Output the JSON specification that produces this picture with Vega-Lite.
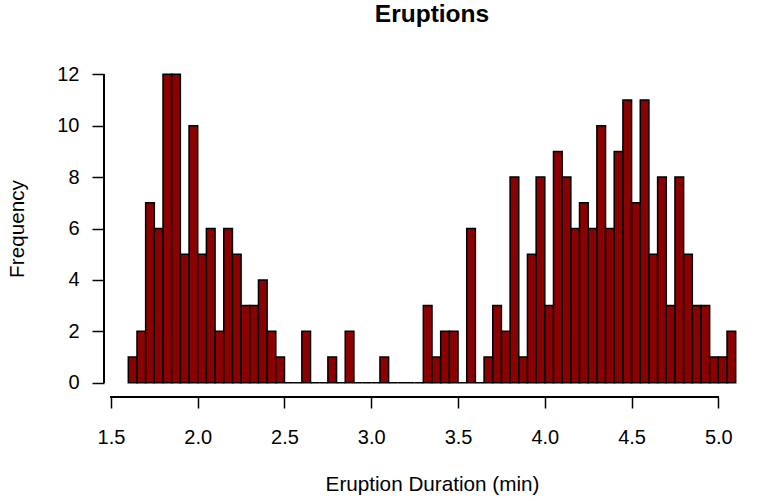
{
  "$schema": "https://vega.github.io/schema/vega-lite/v6.json",
  "width": 656,
  "height": 333,
  "autosize": {"type": "none"},
  "padding": {"left": 104, "top": 62, "right": 1, "bottom": 106},
  "background": "white",
  "config": {
    "view": {"stroke": null},
    "font": "Liberation Sans",
    "axis": {"grid": false, "labelFont": "Liberation Sans", "titleFont": "Liberation Sans", "labelColor": "black", "titleColor": "black", "tickColor": "black", "labelFontSize": 20, "titleFontSize": 20.7, "titleFontWeight": "normal", "domain": false, "tickWidth": 1.5}
  },
  "title": {"text": "Eruptions", "font": "Liberation Sans", "fontSize": 24.5, "fontWeight": "bold", "color": "black", "anchor": "middle", "baseline": "alphabetic", "offset": 16},
  "data": {"values": [
    {"start": 1.60, "end": 1.65, "count": 1},
    {"start": 1.65, "end": 1.70, "count": 2},
    {"start": 1.70, "end": 1.75, "count": 7},
    {"start": 1.75, "end": 1.80, "count": 6},
    {"start": 1.80, "end": 1.85, "count": 12},
    {"start": 1.85, "end": 1.90, "count": 12},
    {"start": 1.90, "end": 1.95, "count": 5},
    {"start": 1.95, "end": 2.00, "count": 10},
    {"start": 2.00, "end": 2.05, "count": 5},
    {"start": 2.05, "end": 2.10, "count": 6},
    {"start": 2.10, "end": 2.15, "count": 2},
    {"start": 2.15, "end": 2.20, "count": 6},
    {"start": 2.20, "end": 2.25, "count": 5},
    {"start": 2.25, "end": 2.30, "count": 3},
    {"start": 2.30, "end": 2.35, "count": 3},
    {"start": 2.35, "end": 2.40, "count": 4},
    {"start": 2.40, "end": 2.45, "count": 2},
    {"start": 2.45, "end": 2.50, "count": 1},
    {"start": 2.50, "end": 2.55, "count": 0},
    {"start": 2.55, "end": 2.60, "count": 0},
    {"start": 2.60, "end": 2.65, "count": 2},
    {"start": 2.65, "end": 2.70, "count": 0},
    {"start": 2.70, "end": 2.75, "count": 0},
    {"start": 2.75, "end": 2.80, "count": 1},
    {"start": 2.80, "end": 2.85, "count": 0},
    {"start": 2.85, "end": 2.90, "count": 2},
    {"start": 2.90, "end": 2.95, "count": 0},
    {"start": 2.95, "end": 3.00, "count": 0},
    {"start": 3.00, "end": 3.05, "count": 0},
    {"start": 3.05, "end": 3.10, "count": 1},
    {"start": 3.10, "end": 3.15, "count": 0},
    {"start": 3.15, "end": 3.20, "count": 0},
    {"start": 3.20, "end": 3.25, "count": 0},
    {"start": 3.25, "end": 3.30, "count": 0},
    {"start": 3.30, "end": 3.35, "count": 3},
    {"start": 3.35, "end": 3.40, "count": 1},
    {"start": 3.40, "end": 3.45, "count": 2},
    {"start": 3.45, "end": 3.50, "count": 2},
    {"start": 3.50, "end": 3.55, "count": 0},
    {"start": 3.55, "end": 3.60, "count": 6},
    {"start": 3.60, "end": 3.65, "count": 0},
    {"start": 3.65, "end": 3.70, "count": 1},
    {"start": 3.70, "end": 3.75, "count": 3},
    {"start": 3.75, "end": 3.80, "count": 2},
    {"start": 3.80, "end": 3.85, "count": 8},
    {"start": 3.85, "end": 3.90, "count": 1},
    {"start": 3.90, "end": 3.95, "count": 5},
    {"start": 3.95, "end": 4.00, "count": 8},
    {"start": 4.00, "end": 4.05, "count": 3},
    {"start": 4.05, "end": 4.10, "count": 9},
    {"start": 4.10, "end": 4.15, "count": 8},
    {"start": 4.15, "end": 4.20, "count": 6},
    {"start": 4.20, "end": 4.25, "count": 7},
    {"start": 4.25, "end": 4.30, "count": 6},
    {"start": 4.30, "end": 4.35, "count": 10},
    {"start": 4.35, "end": 4.40, "count": 6},
    {"start": 4.40, "end": 4.45, "count": 9},
    {"start": 4.45, "end": 4.50, "count": 11},
    {"start": 4.50, "end": 4.55, "count": 7},
    {"start": 4.55, "end": 4.60, "count": 11},
    {"start": 4.60, "end": 4.65, "count": 5},
    {"start": 4.65, "end": 4.70, "count": 8},
    {"start": 4.70, "end": 4.75, "count": 3},
    {"start": 4.75, "end": 4.80, "count": 8},
    {"start": 4.80, "end": 4.85, "count": 5},
    {"start": 4.85, "end": 4.90, "count": 3},
    {"start": 4.90, "end": 4.95, "count": 3},
    {"start": 4.95, "end": 5.00, "count": 1},
    {"start": 5.00, "end": 5.05, "count": 1},
    {"start": 5.05, "end": 5.10, "count": 2}
  ]},
  "layer": [
    {
      "mark": {"type": "bar", "fill": "#8B0000", "stroke": "black", "strokeWidth": 1.5, "clip": false},
      "encoding": {
        "x": {"field": "start", "type": "quantitative",
              "scale": {"domain": [1.46, 5.24], "nice": false, "zero": false},
              "axis": {"values": [1.5, 2.0, 2.5, 3.0, 3.5, 4.0, 4.5, 5.0], "format": ".1f", "title": "Eruption Duration (min)", "tickSize": 11, "offset": 2, "labelPadding": 19, "titlePadding": 27, "labelFlush": false}},
        "x2": {"field": "end"},
        "y": {"field": "count", "type": "quantitative",
              "scale": {"domain": [-0.48, 12.48], "nice": false, "zero": false},
              "axis": {"values": [0, 2, 4, 6, 8, 10, 12], "title": "Frequency", "tickSize": 12, "labelPadding": 13, "titlePadding": 29, "labelAngle": 0, "labelFlush": false}},
        "y2": {"datum": 0}
      }
    },
    {
      "mark": {"type": "rule", "color": "black", "strokeWidth": 1.5, "yOffset": 2},
      "encoding": {
        "x": {"datum": 1.5, "type": "quantitative"},
        "x2": {"datum": 5.0},
        "y": {"datum": -0.48, "type": "quantitative"}
      }
    },
    {
      "mark": {"type": "rule", "color": "black", "strokeWidth": 1.5},
      "encoding": {
        "x": {"datum": 1.46, "type": "quantitative"},
        "y": {"datum": 0, "type": "quantitative"},
        "y2": {"datum": 12}
      }
    }
  ]
}
